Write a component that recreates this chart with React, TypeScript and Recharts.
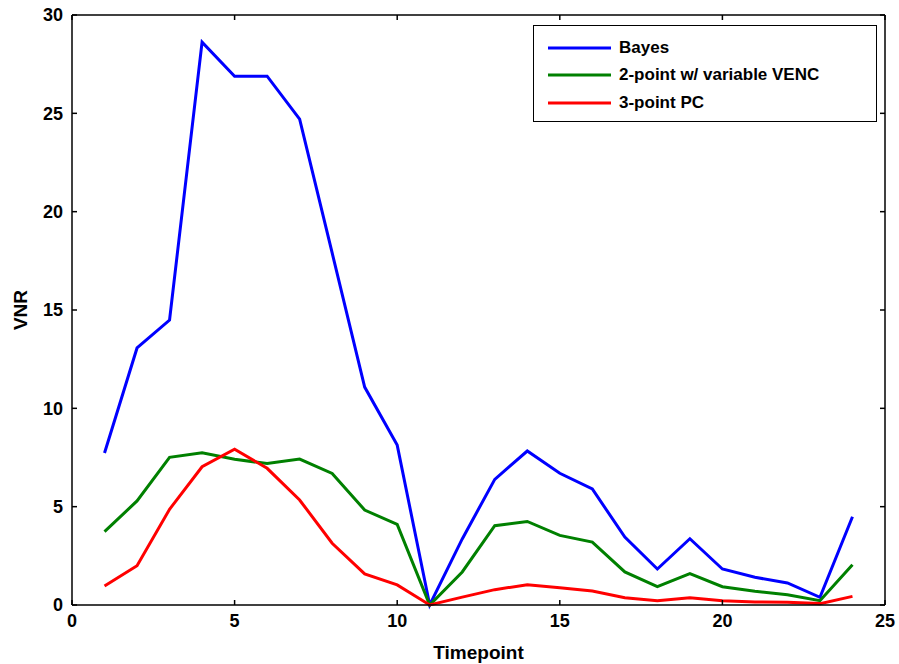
import React from 'react';
import { LineChart, Line, XAxis, YAxis, Legend, Label } from 'recharts';

const timepoints = [1, 2, 3, 4, 5, 6, 7, 8, 9, 10, 11, 12, 13, 14, 15, 16, 17, 18, 19, 20, 21, 22, 23, 24];
const bayes = [7.73, 13.07, 14.49, 28.62, 26.89, 26.89, 24.71, 17.9, 11.08, 8.13, 0, 3.36, 6.39, 7.83, 6.7, 5.9, 3.45, 1.83, 3.37, 1.83, 1.41, 1.12, 0.39, 4.49];
const twoPoint = [3.73, 5.29, 7.51, 7.74, 7.41, 7.19, 7.42, 6.69, 4.83, 4.1, 0, 1.68, 4.03, 4.25, 3.54, 3.2, 1.68, 0.93, 1.59, 0.93, 0.7, 0.52, 0.22, 2.05];
const threePoint = [0.97, 2.0, 4.87, 7.03, 7.92, 6.95, 5.34, 3.14, 1.58, 1.02, 0, 0.4, 0.78, 1.03, 0.88, 0.71, 0.37, 0.22, 0.37, 0.22, 0.15, 0.14, 0.07, 0.44];
const seriesNames = ['Bayes', '2-point w/ variable VENC', '3-point PC'];
const xTicks = [0, 5, 10, 15, 20, 25];
const yTicks = [0, 5, 10, 15, 20, 25, 30];

const data = timepoints.map((t, i) => ({
  t,
  bayes: bayes[i],
  twoPoint: twoPoint[i],
  threePoint: threePoint[i],
}));

const font = 'Arial, "Liberation Sans", Helvetica, sans-serif';
const tickStyle = { fontSize: 18, fontWeight: 'bold', fill: '#000', fontFamily: font };

const NoLabel = () => <g />;

const LegendBox = (props: any) => {
  const items = seriesNames
    .map((n) => (props.payload || []).find((p: any) => p.value === n))
    .filter(Boolean);
  return (
    <div
      style={{
        border: '1px solid #000',
        background: '#fff',
        width: 344,
        height: 97,
        boxSizing: 'border-box',
        padding: '8px 0 0 14px',
        fontFamily: font,
        fontWeight: 'bold',
        fontSize: 17,
        color: '#000',
        textAlign: 'left',
      }}
    >
      {items.map((p: any) => (
        <div key={p.value} style={{ display: 'flex', alignItems: 'center', height: 27.5 }}>
          <svg width={63} height={4} style={{ marginRight: 8 }}>
            <line x1={0} y1={2} x2={63} y2={2} stroke={p.color} strokeWidth={3} />
          </svg>
          <span>{p.value}</span>
        </div>
      ))}
    </div>
  );
};

export default function App() {
  return (
    <div style={{ position: 'absolute', left: 0, top: 0, background: '#fff' }}>
      <LineChart
        width={899}
        height={664}
        data={data}
        margin={{ top: 14, right: 13, left: 0, bottom: 0 }}
        style={{ fontFamily: font }}
      >
        <XAxis
          dataKey="t"
          type="number"
          domain={[0, 25]}
          ticks={xTicks}
          height={59}
          stroke="#000"
          strokeWidth={1.5}
          tickSize={-5}
          tickMargin={14}
          tick={tickStyle}
        >
          <Label value="Timepoint" position="insideBottom" offset={5} style={{ fontSize: 19, fontWeight: 'bold', fill: '#000', fontFamily: font }} />
        </XAxis>
        <XAxis
          xAxisId="top"
          orientation="top"
          dataKey="t"
          type="number"
          domain={[0, 25]}
          ticks={xTicks}
          height={1}
          stroke="#000"
          strokeWidth={1.5}
          tickSize={-5}
          tick={<NoLabel />}
        />
        <YAxis
          type="number"
          domain={[0, 30]}
          ticks={yTicks}
          width={72}
          stroke="#000"
          strokeWidth={1.5}
          tickSize={-5}
          tickMargin={14}
          tick={tickStyle}
        >
          <Label
            content={({ viewBox }: any) => (
              <text
                x={20}
                y={viewBox.y + viewBox.height / 2}
                transform={`rotate(-90, 20, ${viewBox.y + viewBox.height / 2})`}
                textAnchor="middle"
                dominantBaseline="central"
                style={{ fontSize: 19, fontWeight: 'bold', fill: '#000', fontFamily: font }}
              >
                VNR
              </text>
            )}
          />
        </YAxis>
        <YAxis
          yAxisId="right"
          orientation="right"
          type="number"
          domain={[0, 30]}
          ticks={yTicks}
          width={1}
          stroke="#000"
          strokeWidth={1.5}
          tickSize={-5}
          tick={<NoLabel />}
        />
        <Legend
          layout="horizontal"
          verticalAlign="middle"
          align="center"
          content={<LegendBox />}
          wrapperStyle={{ position: 'absolute', left: 533, top: 25, width: 344 }}
        />
        <Line type="linear" dataKey="bayes" name="Bayes" stroke="#0000ff" strokeWidth={3} dot={false} isAnimationActive={false} />
        <Line type="linear" dataKey="twoPoint" name="2-point w/ variable VENC" stroke="#008000" strokeWidth={3} dot={false} isAnimationActive={false} />
        <Line type="linear" dataKey="threePoint" name="3-point PC" stroke="#ff0000" strokeWidth={3} dot={false} isAnimationActive={false} />
        {/* invisible series so the top/right frame axes get drawn */}
        <Line
          xAxisId="top"
          yAxisId="right"
          type="linear"
          dataKey="bayes"
          stroke="none"
          dot={false}
          legendType="none"
          isAnimationActive={false}
        />
      </LineChart>
    </div>
  );
}
